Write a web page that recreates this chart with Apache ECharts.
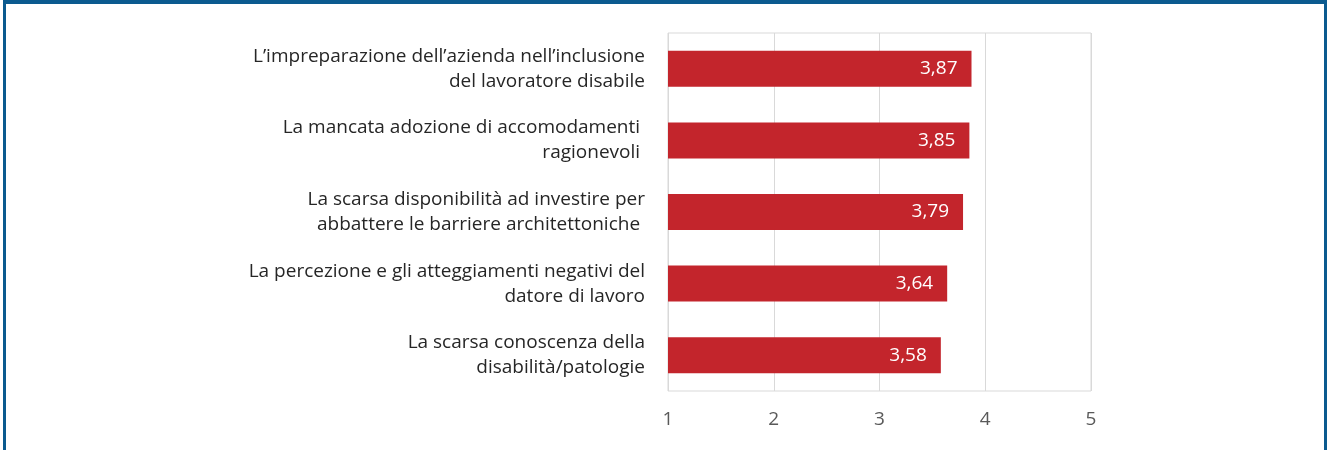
<!DOCTYPE html>
<html lang="it" style="height: 100%">
<head>
  <meta charset="UTF-8" />
  <title>Ostacoli all'inclusione</title>
  <script src="https://cdn.jsdelivr.net/npm/echarts@6/dist/echarts.min.js"></script>
</head>
<body style="height: 100%; margin: 0; background: #fff">
  <div id="frame" style="position: absolute; left: 3px; top: 0; width: 1318px; height: 460px; border-top: 4px solid #0b5a8f; border-left: 3px solid #0b5a8f; border-right: 3px solid #0b5a8f;"></div>
  <div id="main" style="position: absolute; left: 0; top: 0; width: 1327px; height: 450px"></div>
  <script type="text/javascript">
    // categorie (dall'alto verso il basso)
    var categories = [
      "L\u2019impreparazione dell\u2019azienda nell\u2019inclusione\ndel lavoratore disabile",
      "La mancata adozione di accomodamenti \nragionevoli ",
      "La scarsa disponibilità ad investire per\nabbattere le barriere architettoniche ",
      "La percezione e gli atteggiamenti negativi del\ndatore di lavoro",
      "La scarsa conoscenza della\ndisabilità/patologie"
    ];
    var values = [3.87, 3.85, 3.79, 3.64, 3.58];
    var tickLabels = ["1", "2", "3", "4", "5"];

    var myChart = echarts.init(document.getElementById("main"));

    var option = {
      animation: false,
      grid: {
        left: 668,
        right: 236,
        top: 33,
        bottom: 59,
        show: true,
        borderColor: "#d9d9d9",
        borderWidth: 1
      },
      xAxis: {
        type: "value",
        min: 1,
        max: 5,
        interval: 1,
        axisLine: { show: false },
        axisTick: { show: false },
        splitLine: { lineStyle: { color: "#d9d9d9", width: 1 } },
        axisLabel: {
          margin: 19,
          color: "#595959",
          fontSize: 19,
          fontFamily: "Open Sans",
          formatter: function (v) { return tickLabels[v - 1]; }
        }
      },
      yAxis: {
        type: "category",
        inverse: true,
        data: categories,
        axisLine: { show: false },
        axisTick: { show: false },
        axisLabel: {
          margin: 23,
          color: "#262626",
          fontSize: 19,
          lineHeight: 25,
          align: "right",
          fontFamily: "Open Sans"
        }
      },
      series: [
        {
          type: "bar",
          data: values,
          barWidth: 36,
          itemStyle: { color: "#c3252c" },
          label: {
            show: true,
            position: "insideRight",
            distance: 14,
            color: "#ffffff",
            fontSize: 19,
            fontFamily: "Open Sans",
            formatter: function (p) { return p.value.toFixed(2).replace(".", ","); }
          }
        }
      ]
    };

    myChart.setOption(option);
    window.addEventListener("resize", myChart.resize);
  </script>
</body>
</html>
